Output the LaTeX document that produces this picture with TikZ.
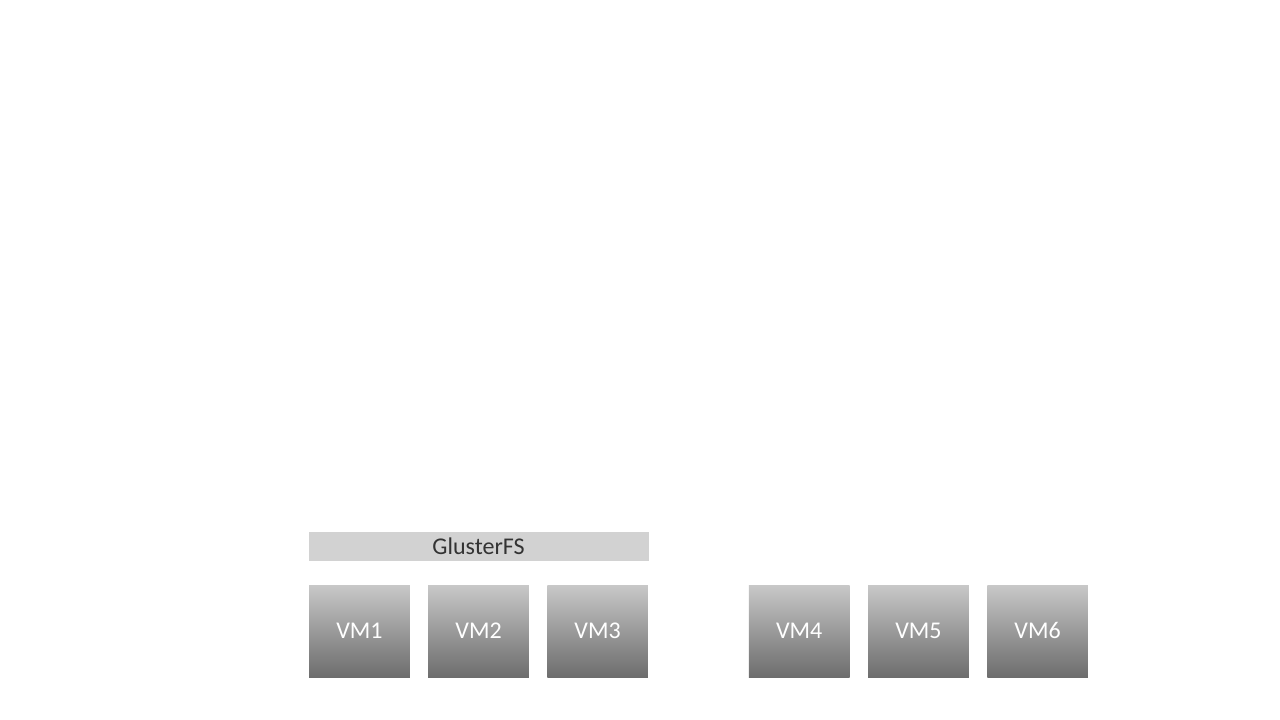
\documentclass[tikz,border=0pt]{standalone}
\usepackage{fontspec}
\setmainfont{Carlito}
\usetikzlibrary{positioning}
\definecolor{vmtop}{HTML}{C8C8C8}
\definecolor{vmbottom}{HTML}{6C6C6C}
\definecolor{fsfill}{HTML}{D2D2D2}
\definecolor{fstext}{HTML}{333333}
\begin{document}
\begin{tikzpicture}[x=0.75pt,y=0.75pt,
    vm/.style={minimum width=75.5pt,minimum height=69pt,inner sep=0pt,
        text height=2.2ex,text depth=0pt,
        top color=vmtop,bottom color=vmbottom,text=white,
        font=\fontsize{18}{22}\selectfont},
    fs/.style={fill=fsfill,text=fstext,minimum width=255pt,minimum height=21.75pt,
        inner sep=0pt,font=\fontsize{18}{22}\selectfont},
    node distance=13.5pt]
    \useasboundingbox (0,0) rectangle (1280,720);
    \node[vm] (vm1) at (359.5,88.5) {VM1};
    \node[vm,right=13.4pt of vm1] (vm2) {VM2};
    \node[vm,right=13.4pt of vm2] (vm3) {VM3};
    \node[vm,right=75.3pt of vm3] (vm4) {VM4};
    \node[vm,right=of vm4] (vm5) {VM5};
    \node[vm,right=of vm5] (vm6) {VM6};
    %\node[fs] (gluster2) ...
    \node[fs,above=18.2pt of vm2] (gluster) {GlusterFS};
\end{tikzpicture}
\end{document}
